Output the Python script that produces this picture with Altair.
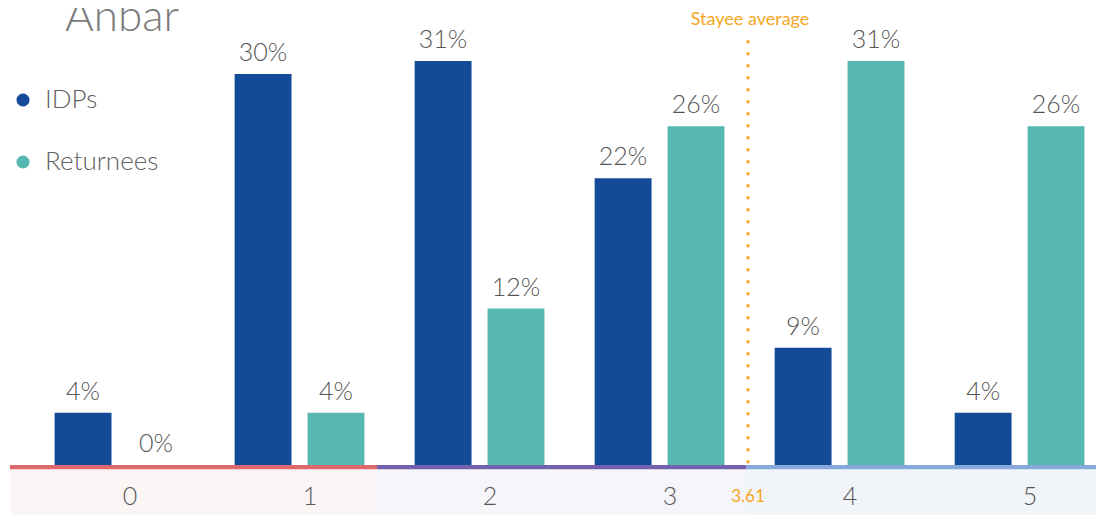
import altair as alt
import pandas as pd

# ---- data ----
scores = [0, 1, 2, 3, 4, 5]
idps = [4, 30, 31, 22, 9, 4]
returnees = [0, 4, 12, 26, 31, 26]
groups = ["IDPs", "Returnees"]
group_colors = ["#134B99", "#56B8B1"]
stayee_average = 3.61
stayee_label = "Stayee average"
title_text = "Anbar"

# score bands (start, end in score units) used for the coloured baseline
band_starts = [-0.611, 1.428, 3.478]
band_ends = [1.428, 3.478, 5.6]
band_line_colors = ["#DF686D", "#7461AD", "#86A9DA"]
band_fill_colors = ["#FBF5F6", "#F6F5FA", "#F1F4F9"]
stayee_line_pos = 3.489  # where the marker is drawn on the score axis

FONT = "Lato"
TXT = "#555555"
ORANGE = "#F5A623"

bar_half = 0.158
offsets = {"IDPs": -0.205, "Returnees": 0.2}

rows = []
for s, a, b in zip(scores, idps, returnees):
    for g, v in (("IDPs", a), ("Returnees", b)):
        c = s + offsets[g]
        rows.append({"score": s, "group": g, "value": v, "xc": c,
                     "x0": c - bar_half, "x1": c + bar_half, "y0": 0,
                     "label": f"{v}%"})
bars_df = pd.DataFrame(rows)

LAB_Y = -2.46
bands_df = pd.DataFrame({"x0": band_starts, "x1": band_ends,
                         "line": band_line_colors, "fill": band_fill_colors,
                         "lt": [0.0] * 3, "lb": [-0.33] * 3,
                         "bt": [-0.3] * 3, "bb": [-3.84] * 3})
cats_df = pd.DataFrame({"score": scores, "label": [str(s) for s in scores],
                        "y": [LAB_Y] * len(scores)})

xs = alt.Scale(domain=[-0.622, 5.422], nice=False, zero=False)
ys = alt.Scale(domain=[-3.84, 35.07], nice=False, zero=False)

bars = alt.Chart(bars_df).mark_rect().encode(
    x=alt.X("x0:Q", scale=xs, axis=None),
    x2="x1:Q",
    y=alt.Y("y0:Q", scale=ys, axis=None),
    y2="value:Q",
    color=alt.Color("group:N", scale=alt.Scale(domain=groups, range=group_colors),
                    legend=alt.Legend(title=None, orient="none", legendX=2, legendY=79,
                                      symbolType="circle", symbolSize=170,
                                      symbolStrokeWidth=0, labelFontSize=26,
                                      labelFont=FONT, labelFontWeight=300,
                                      labelColor="#5f5f5f",
                                      labelOffset=9, rowPadding=36, padding=0)),
)

pct = alt.Chart(bars_df).mark_text(dy=-13, baseline="alphabetic", fontSize=25,
                                   font=FONT, fontWeight=300, color=TXT).encode(
    x=alt.X("xc:Q", scale=xs, axis=None), y=alt.Y("value:Q", scale=ys, axis=None),
    text="label:N")

band_bg = alt.Chart(bands_df).mark_rect().encode(
    x=alt.X("x0:Q", scale=xs, axis=None), x2="x1:Q",
    y=alt.Y("bt:Q", scale=ys, axis=None), y2="bb:Q",
    fill=alt.Fill("fill:N", scale=None))

band_line = alt.Chart(bands_df).mark_rect().encode(
    x=alt.X("x0:Q", scale=xs, axis=None), x2="x1:Q",
    y=alt.Y("lt:Q", scale=ys, axis=None), y2="lb:Q",
    fill=alt.Fill("line:N", scale=None))

cat_labels = alt.Chart(cats_df).mark_text(dx=10, baseline="middle", fontSize=25,
                                          font=FONT, fontWeight=300, color=TXT).encode(
    x=alt.X("score:Q", scale=xs, axis=None), y=alt.Y("y:Q", scale=ys, axis=None),
    text="label:N")

stayee_df = pd.DataFrame({"pos": [stayee_line_pos], "avg": [f"{stayee_average:.2f}"],
                          "name": [stayee_label], "top": [32.6], "bot": [0.0],
                          "ly": [LAB_Y], "ny": [34.15]})
stayee_rule = alt.Chart(stayee_df).mark_rule(color=ORANGE, strokeWidth=3,
                                             strokeDash=[3, 9]).encode(
    x=alt.X("pos:Q", scale=xs, axis=None), y=alt.Y("top:Q", scale=ys, axis=None),
    y2="bot:Q")
stayee_val = alt.Chart(stayee_df).mark_text(fontSize=17, font=FONT, color=ORANGE,
                                            baseline="middle").encode(
    x=alt.X("pos:Q", scale=xs, axis=None), y=alt.Y("ly:Q", scale=ys, axis=None),
    text="avg:N")
stayee_txt = alt.Chart(stayee_df).mark_text(fontSize=18, font=FONT, color=ORANGE,
                                            baseline="middle", dx=2).encode(
    x=alt.X("pos:Q", scale=xs, axis=None), y=alt.Y("ny:Q", scale=ys, axis=None),
    text="name:N")

title_df = pd.DataFrame({"x": [-0.305], "y": [33.3], "t": [title_text]})
title = alt.Chart(title_df).mark_text(fontSize=44, font=FONT, fontWeight=300,
                                      color="#7c7c7c",
                                      align="left", baseline="alphabetic").encode(
    x=alt.X("x:Q", scale=xs, axis=None), y=alt.Y("y:Q", scale=ys, axis=None),
    text="t:N")

chart = alt.layer(band_bg, band_line, bars, pct, cat_labels, stayee_rule,
                  stayee_val, stayee_txt, title).properties(
    width=1088, height=507,
    autosize=alt.AutoSizeParams(type="none"),
    padding=0,
).configure_view(stroke=None)

chart.save("out.html", embed_options={"renderer": "svg", "actions": False})
